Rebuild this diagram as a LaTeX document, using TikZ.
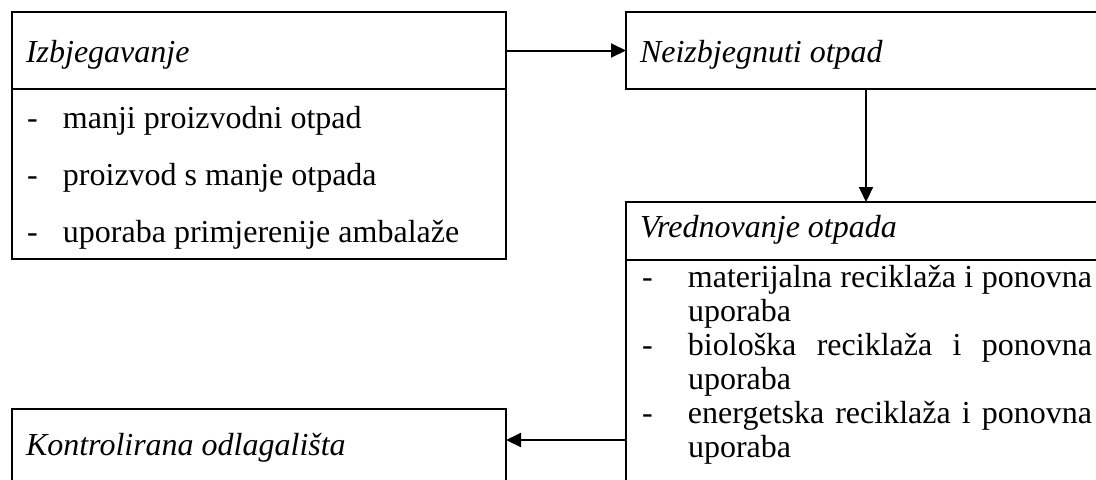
\documentclass[tikz,border=0pt]{standalone}
\usepackage{fontspec}
\setmainfont{Liberation Serif}
\usetikzlibrary{arrows.meta,positioning}
\newcommand{\crt}[1][18pt]{\makebox[#1][l]{-}}
\newcommand{\razvuci}[1]{\makebox[202pt][s]{\spaceskip=0pt\xspaceskip=0pt\relax #1}}
\begin{document}
\begin{tikzpicture}
	\tikzset{box/.style={draw,line width=1pt,inner xsep=7pt,inner ysep=0pt,outer sep=0pt,text width=233pt,align=flush left,font={\fontsize{16}{19}\selectfont}},
		head/.style={box,font={\fontsize{16}{19}\selectfont\itshape},text height=25pt,text depth=13.5pt},
		popis/.style={inner sep=0pt,outer sep=0pt,anchor=base west,text width=230pt,align=flush left},
		strelica/.style={-{Triangle[length=7.5pt,width=7pt]},line width=1pt}}
	\useasboundingbox (0,0) rectangle (548pt,-239.5pt);
	\clip (0,0) rectangle (548pt,-239.5pt);
	% lijevi stupac
	\node [head, anchor=north west] (izbj) at (6pt,-6pt) {Izbjegavanje};
	\node [box, below=0pt of izbj, minimum height=85pt] (izbjpopis) {};
	\node [popis, font={\fontsize{16}{28.5}\selectfont}] (izbjtekst) at ([shift={(7.5pt,-19.5pt)}]izbjpopis.north west)
		{\crt manji proizvodni otpad\\ \crt proizvod s manje otpada\\ \crt uporaba primjerenije ambalaže};
	\node [head, below=75pt of izbjpopis, text height=23pt, text depth=37pt] (kontrol) {Kontrolirana odlagališta};
	% desni stupac
	\node [head, right=60pt of izbj] (neizbj) {Neizbjegnuti otpad};
	\node [head, below=56.5pt of neizbj, text height=17.5pt, text depth=11.5pt] (vred) {Vrednovanje otpada};
	\node [box, below=0pt of vred, minimum height=120pt] (vredpopis) {};
	\node [popis, font={\fontsize{16}{17}\selectfont}] (vredtekst) at ([shift={(8pt,-13.5pt)}]vredpopis.north west)
		{\crt[23pt]\razvuci{materijalna reciklaža i ponovna}\\ \hspace*{23pt}uporaba\\
		\crt[23pt]\razvuci{biološka reciklaža i ponovna}\\ \hspace*{23pt}uporaba\\
		\crt[23pt]\razvuci{energetska reciklaža i ponovna}\\ \hspace*{23pt}uporaba};
	% strelice
	\draw [strelica] (izbj) -- (neizbj);
	\draw [strelica] ([xshift=-3.5pt]neizbj.south) -- ([xshift=-3.5pt]vred.north);
	\coordinate (ulaz) at ([yshift=-15.5pt]kontrol.north east);
	\draw [strelica] (vredpopis.west |- ulaz) -- (ulaz);
\end{tikzpicture}
\end{document}
